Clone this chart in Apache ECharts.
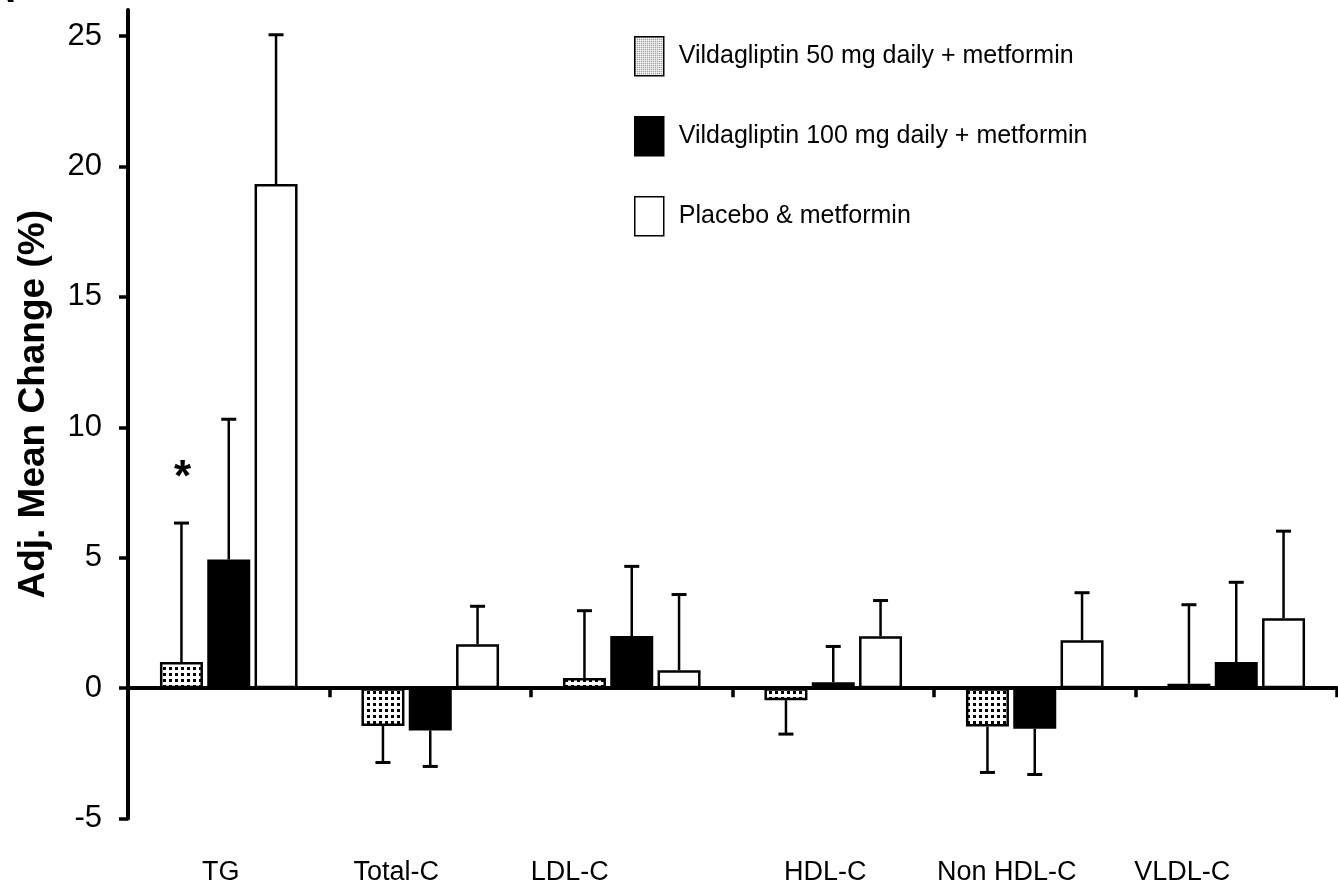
<!DOCTYPE html>
<html><head><meta charset="utf-8">
<script src="https://cdn.jsdelivr.net/npm/echarts@6/dist/echarts.min.js"></script>
<style>html,body{margin:0;padding:0;background:#fff}#c{width:1338px;height:882px}</style>
</head><body><div id="c"></div>
<script>
const categories = ['TG', 'Total-C', 'LDL-C', 'HDL-C', 'Non HDL-C', 'VLDL-C'];
const seriesNames = ['Vildagliptin 50 mg daily + metformin', 'Vildagliptin 100 mg daily + metformin', 'Placebo & metformin'];
const vilda50 = [1.0, -1.45, 0.39, -0.46, -1.47, 0.17];
const vilda100 = [4.93, -1.62, 2.0, 0.23, -1.56, 1.0];
const placebo = [19.33, 1.68, 0.69, 1.99, 1.84, 2.68];
const vilda50Err = [5.33, 1.40, 2.58, 1.30, 1.76, 3.03];
const vilda100Err = [5.38, 1.38, 2.67, 1.37, 1.75, 3.06];
const placeboErr = [5.72, 1.46, 2.90, 1.37, 1.82, 3.34];
const vilda50Sig = ['*', '', '', '', '', ''];
const noSig = ['', '', '', '', '', ''];
const yTicks = [-5, 0, 5, 10, 15, 20, 25];

const FONT = 'Arial, "Liberation Sans", Helvetica, sans-serif';
const BAR_W = 43, GAP = 0.1;
const labelPad = [16, 68, 124, 16, 56, 108];

function makePattern(size, dot, color) {
  const c = document.createElement('canvas');
  c.width = size; c.height = size;
  const g = c.getContext('2d');
  g.fillStyle = '#fff'; g.fillRect(0, 0, size, size);
  g.fillStyle = color;
  const o = Math.floor((size - dot) / 2);
  g.fillRect(o, o, dot, dot);
  return { image: c, repeat: 'repeat' };
}
const dotPattern = makePattern(6, 3, '#000');
const finePattern = makePattern(2, 1, '#555');

function errSeries(idx, means, errs, sig) {
  return {
    type: 'custom',
    xAxisIndex: 0, yAxisIndex: 0,
    z: 5,
    silent: true,
    data: categories.map((c, i) => [i, means[i], errs[i]]),
    renderItem: function (params, api) {
      const ci = api.value(0), m = api.value(1), e = api.value(2);
      const end = m >= 0 ? m + e : m - e;
      const p0 = api.coord([ci, m]);
      const p1 = api.coord([ci, end]);
      const x = p0[0] + (idx - 1) * BAR_W * (1 + GAP);
      const children = [
        { type: 'line', shape: { x1: x, y1: p0[1], x2: x, y2: p1[1] }, style: { stroke: '#000', lineWidth: 2.5 } },
        { type: 'line', shape: { x1: x - 7.5, y1: p1[1], x2: x + 7.5, y2: p1[1] }, style: { stroke: '#000', lineWidth: 3 } }
      ];
      const s = sig[params.dataIndex];
      if (s) {
        children.push({ type: 'text', x: x + 1, y: p1[1] - 44,
          style: { text: s, fontSize: 44, fontWeight: 'bold', fill: '#000', align: 'center', verticalAlign: 'middle', fontFamily: FONT } });
      }
      return { type: 'group', children: children };
    }
  };
}

const chart = echarts.init(document.getElementById('c'), null, { renderer: 'canvas' });
chart.setOption({
  animation: false,
  backgroundColor: '#fff',
  grid: { left: 128, right: 1, top: 10, bottom: 63.4, containLabel: false, outerBoundsMode: 'none' },
  legend: {
    orient: 'vertical', left: 629, top: 31,
    itemWidth: 29, itemHeight: 39, itemGap: 39.5,
    selectedMode: false, icon: 'rect',
    textStyle: { fontSize: 25, color: '#000', fontFamily: FONT, padding: [0, 0, 0, 10] },
    data: [
      { name: seriesNames[0], itemStyle: { color: finePattern, borderColor: '#000', borderWidth: 1.5 } },
      { name: seriesNames[1], itemStyle: { borderColor: '#000', borderWidth: 1.5 } },
      { name: seriesNames[2], itemStyle: { borderColor: '#000', borderWidth: 1.5 } }
    ]
  },
  xAxis: [
    {
      type: 'category', data: categories,
      axisLine: { show: true, onZero: true, lineStyle: { color: '#000', width: 4 } },
      axisTick: { show: true, length: 9, lineStyle: { color: '#000', width: 3.5 } },
      axisLabel: { show: false },
      splitLine: { show: false }
    },
    {
      type: 'category', position: 'bottom',
      data: categories.map((c, i) => ({ value: c, textStyle: { padding: [0, labelPad[i], 0, 0] } })),
      axisLine: { show: false, onZero: false },
      axisTick: { show: false },
      axisLabel: { fontSize: 27, color: '#000', margin: 40, fontFamily: FONT },
      splitLine: { show: false }
    }
  ],
  yAxis: {
    type: 'value', min: -5, max: 26, interval: 5,
    axisLine: { show: true, onZero: false, lineStyle: { color: '#000', width: 4 } },
    axisTick: { show: true, length: 9, lineStyle: { color: '#000', width: 3.5 }, customValues: yTicks },
    axisLabel: { customValues: yTicks, fontSize: 31, color: '#000', margin: 26, fontFamily: FONT },
    splitLine: { show: false },
    name: 'Adj. Mean Change (%)', nameLocation: 'middle', nameGap: 76, nameRotate: 90,
    nameTextStyle: { fontSize: 37, fontWeight: 'bold', color: '#000', fontFamily: FONT, padding: [0, 0, 0, 20] }
  },
  graphic: [
    { type: 'text', left: -14, top: -29, style: { text: 'A', fontSize: 40, fontWeight: 'bold', fill: '#000', fontFamily: FONT } }
  ],
  series: [
    { type: 'bar', name: seriesNames[0], data: vilda50, barWidth: BAR_W, barGap: '10%', z: 2,
      itemStyle: { color: dotPattern, borderColor: '#000', borderWidth: 2.5 } },
    { type: 'bar', name: seriesNames[1], data: vilda100, barWidth: BAR_W, barGap: '10%', z: 2,
      itemStyle: { color: '#000', borderColor: '#000', borderWidth: 2.5 } },
    { type: 'bar', name: seriesNames[2], data: placebo, barWidth: BAR_W, barGap: '10%', z: 2,
      itemStyle: { color: '#fff', borderColor: '#000', borderWidth: 2.5 } },
    errSeries(0, vilda50, vilda50Err, vilda50Sig),
    errSeries(1, vilda100, vilda100Err, noSig),
    errSeries(2, placebo, placeboErr, noSig)
  ]
});
</script>
</body></html>
